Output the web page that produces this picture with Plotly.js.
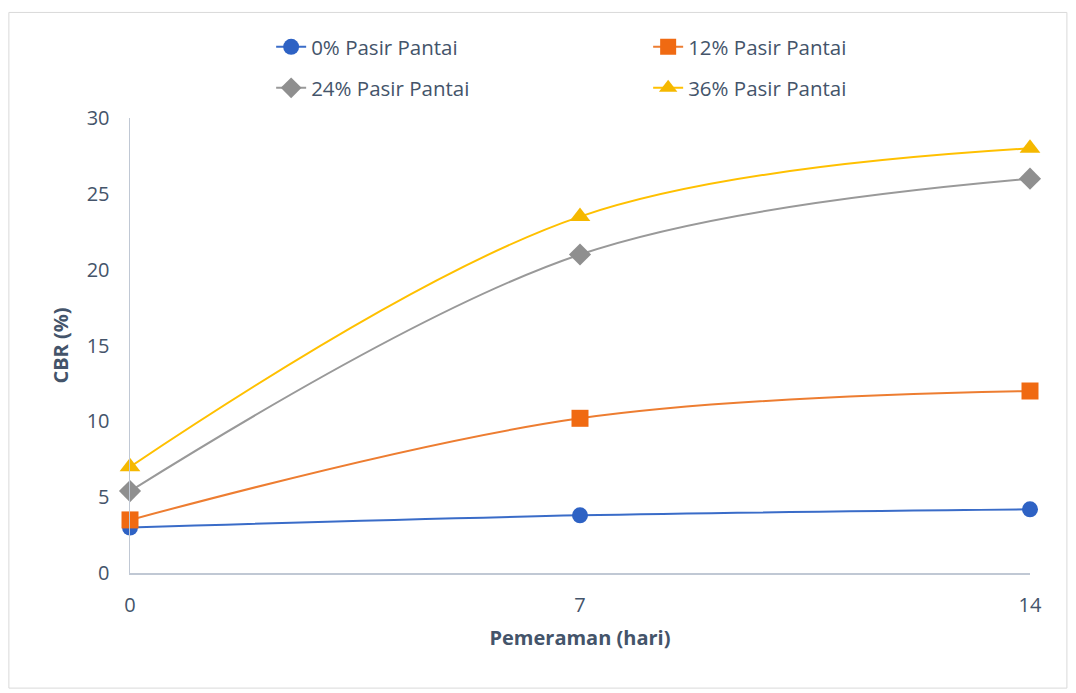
<!DOCTYPE html>
<html>
<head>
<meta charset="utf-8">
<script src="https://cdn.plot.ly/plotly-3.0.1.min.js"></script>
<style>html,body{margin:0;padding:0;background:#fff;}#chart{width:1076px;height:693px;}</style>
</head>
<body>
<div id="chart"></div>
<script>
const days = [0, 7, 14];
const seriesNames = ["0% Pasir Pantai", "12% Pasir Pantai", "24% Pasir Pantai", "36% Pasir Pantai"];
const cbr0 = [3.0, 3.8, 4.2];
const cbr12 = [3.5, 10.2, 12.0];
const cbr24 = [5.4, 21.0, 26.0];
const cbr36 = [7.0, 23.5, 28.0];
const xTicks = [0, 7, 14];
const yTicks = [0, 5, 10, 15, 20, 25, 30];

const colors = ["#3a6cc8", "#ed7d31", "#999999", "#ffc000"];
const markerFill = ["#2e62c4", "#f06a12", "#8f8f8f", "#f5b800"];
const symbols = ["circle", "square", "diamond", "triangle-up"];
const sizes = [16, 17, 17, 18];
const legendIds = ["legend", "legend", "legend2", "legend2"];
const data = [cbr0, cbr12, cbr24, cbr36];

const traces = data.map((ys, i) => ({
  x: days, y: ys, name: seriesNames[i], type: 'scatter', mode: 'lines+markers',
  line: {color: colors[i], width: 2, shape: 'spline', smoothing: 1},
  marker: {symbol: symbols[i], size: sizes[i], color: markerFill[i], line: {width: 0}},
  legend: legendIds[i],
  cliponaxis: false
}));

const font = "'Open Sans', 'Noto Sans', sans-serif";
const txt = "#44546a";
const legBase = {orientation: 'h', xref: 'container', yref: 'container', x: 0.252, xanchor: 'left',
  yanchor: 'middle', entrywidth: 332, entrywidthmode: 'pixels', font: {size: 20.5, color: txt},
  bgcolor: 'rgba(0,0,0,0)'};
const layout = {
  width: 1076, height: 693,
  margin: {l: 130, r: 46, t: 118, b: 120},
  paper_bgcolor: '#fff', plot_bgcolor: '#fff',
  font: {family: font, color: txt, size: 20},
  showlegend: true,
  legend: Object.assign({}, legBase, {y: 1 - 47/693}),
  legend2: Object.assign({}, legBase, {y: 1 - 88/693}),
  xaxis: {range: [0, 14], tickvals: xTicks, ticktext: xTicks.map(String), showgrid: false, zeroline: false,
    showline: true, linecolor: '#c0c8d4', linewidth: 1.5, ticks: '', ticklabelstandoff: 13,
    tickfont: {size: 20, color: txt},
    title: {text: '<b>Pemeraman (hari)</b>', font: {size: 20, color: txt}, standoff: 14}},
  yaxis: {range: [0, 30], tickvals: yTicks, showgrid: false, zeroline: false,
    showline: true, linecolor: '#c0c8d4', linewidth: 1.5, ticks: '', ticklabelstandoff: 15,
    tickfont: {size: 20, color: txt},
    title: {text: '<b>CBR (%)</b>', font: {size: 20, color: txt}, standoff: 12}},
  shapes: [{type: 'rect', xref: 'paper', yref: 'paper', x0: -0.1346, x1: 1.041, y0: -0.253, y1: 1.232,
    line: {color: '#d9d9d9', width: 1}, fillcolor: 'rgba(0,0,0,0)', layer: 'below'}]
};
Plotly.newPlot('chart', traces, layout, {displayModeBar: false, staticPlot: true});
</script>
</body>
</html>
